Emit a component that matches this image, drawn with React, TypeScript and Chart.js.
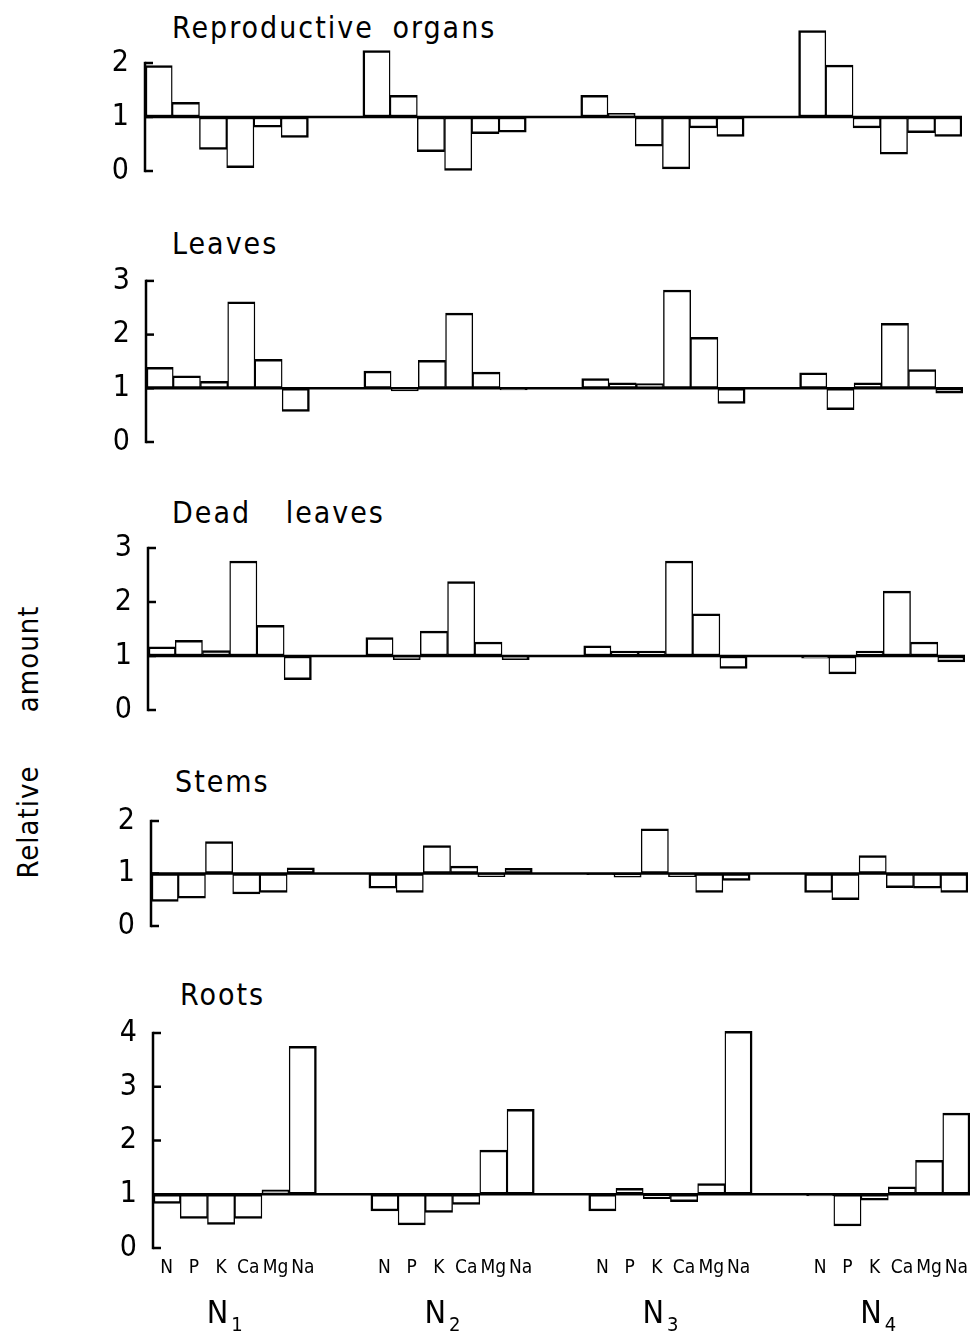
import React, { useEffect, useRef } from 'react';
import { Chart, registerables } from 'chart.js';

Chart.register(...registerables);

// ---------- data ----------
const elements = ['N', 'P', 'K', 'Ca', 'Mg', 'Na'];
const treatments = ['1', '2', '3', '4'];

const reproductive = [
  1.95, 1.27, 0.40, 0.06, 0.81, 0.62,
  2.23, 1.40, 0.36, 0.01, 0.69, 0.72,
  1.40, 1.07, 0.46, 0.04, 0.80, 0.64,
  2.60, 1.96, 0.80, 0.31, 0.71, 0.64,
];
const leaves = [
  1.39, 1.23, 1.13, 2.61, 1.54, 0.57,
  1.32, 0.95, 1.52, 2.40, 1.30, 0.97,
  1.18, 1.10, 1.09, 2.83, 1.95, 0.72,
  1.29, 0.60, 1.10, 2.21, 1.35, 0.91,
];
const deadLeaves = [
  1.17, 1.29, 1.10, 2.76, 1.57, 0.56,
  1.34, 0.93, 1.46, 2.38, 1.26, 0.93,
  1.19, 1.09, 1.09, 2.76, 1.78, 0.77,
  0.96, 0.67, 1.09, 2.20, 1.26, 0.89,
];
const stems = [
  0.47, 0.53, 1.61, 0.61, 0.64, 1.11,
  0.72, 0.64, 1.53, 1.14, 0.94, 1.10,
  0.98, 0.93, 1.85, 0.94, 0.64, 0.87,
  0.64, 0.50, 1.34, 0.73, 0.72, 0.64,
];
const roots = [
  0.83, 0.55, 0.44, 0.55, 1.08, 3.75,
  0.69, 0.43, 0.66, 0.81, 1.82, 2.58,
  0.69, 1.11, 0.92, 0.86, 1.20, 4.03,
  0.97, 0.41, 0.89, 1.14, 1.63, 2.51,
];

const ticksRepro = [0, 1, 2];
const ticksLeaves = [0, 1, 2, 3];
const ticksDead = [0, 1, 2, 3];
const ticksStems = [0, 1, 2];
const ticksRoots = [0, 1, 2, 3, 4];

const BASE = 1;
const GAP = 2;

// ---------- helpers ----------
const FONT = '"DejaVu Sans Condensed", "Liberation Sans Narrow", "DejaVu Sans", sans-serif';
const W = 980;
const PAGE_H = 1334;
const PLOT_W = 817;
const PAD = 40;

function buildLabels(): string[] {
  const out: string[] = [];
  treatments.forEach((_, g) => {
    elements.forEach((e) => out.push(e));
    if (g < treatments.length - 1) for (let k = 0; k < GAP; k++) out.push('');
  });
  return out;
}

function buildBars(values: number[]) {
  const out: ([number, number] | null)[] = [];
  let idx = 0;
  treatments.forEach((_, g) => {
    elements.forEach(() => {
      out.push([BASE, values[idx++]]);
    });
    if (g < treatments.length - 1) for (let k = 0; k < GAP; k++) out.push(null);
  });
  return out;
}

type PanelCfg = {
  title: string;
  values: number[];
  ticks: number[];
  max: number;
  axisX: number;
  y0: number;
  unit: number;
  titleX: number;
  titleBase: number;
  wordSpacing: number;
  showX: boolean;
};

const panels: PanelCfg[] = [
  { title: 'Reproductive organs', values: reproductive, ticks: ticksRepro, max: 2.75, axisX: 145, y0: 171, unit: 54, titleX: 172, titleBase: 38, wordSpacing: 8, showX: false },
  { title: 'Leaves', values: leaves, ticks: ticksLeaves, max: 3.05, axisX: 146, y0: 442, unit: 53.7, titleX: 172, titleBase: 254, wordSpacing: 0, showX: false },
  { title: 'Dead leaves', values: deadLeaves, ticks: ticksDead, max: 3.05, axisX: 148, y0: 710, unit: 54, titleX: 172, titleBase: 523, wordSpacing: 24, showX: false },
  { title: 'Stems', values: stems, ticks: ticksStems, max: 2.1, axisX: 151, y0: 926, unit: 52.5, titleX: 175, titleBase: 792, wordSpacing: 0, showX: false },
  { title: 'Roots', values: roots, ticks: ticksRoots, max: 4.2, axisX: 153, y0: 1248, unit: 53.75, titleX: 180, titleBase: 1005, wordSpacing: 0, showX: true },
];

function Panel({ cfg }: { cfg: PanelCfg }) {
  const ref = useRef<HTMLCanvasElement>(null);
  const plotH = cfg.max * cfg.unit;
  const top = Math.floor(cfg.y0 - plotH - PAD);
  const padTop = cfg.y0 - plotH - top;
  const bottomH = cfg.showX ? PAGE_H - cfg.y0 : PAD;
  const height = Math.round(padTop + plotH + bottomH);

  useEffect(() => {
    if (!ref.current) return;
    const tickVals = cfg.ticks;
    const topTick = tickVals[tickVals.length - 1];

    const framePlugin = {
      id: 'frame',
      afterDatasetsDraw(chart: any) {
        const { ctx, chartArea, scales } = chart;
        const y = scales.y;
        ctx.save();
        ctx.strokeStyle = '#000';
        ctx.lineWidth = 2.5;
        ctx.lineCap = 'butt';
        // baseline at relative amount 1
        const yb = y.getPixelForValue(BASE);
        ctx.beginPath();
        ctx.moveTo(chartArea.left, yb);
        ctx.lineTo(chartArea.right, yb);
        ctx.stroke();
        // y axis line
        const yt = y.getPixelForValue(topTick);
        const y0 = y.getPixelForValue(0);
        ctx.beginPath();
        ctx.moveTo(chartArea.left, yt - 1.2);
        ctx.lineTo(chartArea.left, y0 + 1.2);
        ctx.stroke();
        // inward ticks
        tickVals.forEach((v) => {
          const py = y.getPixelForValue(v);
          ctx.beginPath();
          ctx.moveTo(chartArea.left, py);
          ctx.lineTo(chartArea.left + 8, py);
          ctx.stroke();
        });
        ctx.restore();
      },
    };

    const groupPlugin = {
      id: 'groups',
      afterDraw(chart: any) {
        if (!cfg.showX) return;
        const { ctx, chartArea, scales } = chart;
        const x = scales.x;
        ctx.save();
        ctx.fillStyle = '#000';
        ctx.textBaseline = 'alphabetic';
        ctx.textAlign = 'left';
        const base = chartArea.bottom + (1323 - cfg.y0);
        treatments.forEach((t, g) => {
          const start = g * (elements.length + GAP);
          const cx = (x.getPixelForValue(start + 2) + x.getPixelForValue(start + 3)) / 2;
          ctx.font = `32px ${FONT}`;
          const wN = ctx.measureText('N').width;
          ctx.font = `20px ${FONT}`;
          const wS = ctx.measureText(t).width;
          const total = wN + 3 + wS;
          const left = cx - 10 - total / 2;
          ctx.font = `32px ${FONT}`;
          ctx.fillText('N', left, base);
          ctx.font = `20px ${FONT}`;
          ctx.fillText(t, left + wN + 3, base + 8);
        });
        ctx.restore();
      },
    };

    const chart = new Chart(ref.current, {
      type: 'bar',
      data: {
        labels: buildLabels(),
        datasets: [
          {
            data: buildBars(cfg.values) as any,
            backgroundColor: '#ffffff',
            borderColor: '#000000',
            borderSkipped: false,
            borderWidth: (c: any) => {
              const i = c.dataIndex % (elements.length + GAP);
              return {
                top: 2.5,
                bottom: 2.5,
                left: i === 0 ? 2.5 : 1.4,
                right: i === elements.length - 1 ? 2.5 : 1.4,
              };
            },
            barPercentage: 1,
            categoryPercentage: 1,
          } as any,
        ],
      },
      options: {
        responsive: false,
        animation: false,
        events: [],
        layout: {
          padding: { left: 0, right: W - (cfg.axisX + PLOT_W), top: padTop, bottom: cfg.showX ? 0 : PAD },
        },
        plugins: {
          legend: { display: false },
          tooltip: { enabled: false },
          title: { display: false },
        },
        scales: {
          x: {
            type: 'category',
            offset: true,
            display: cfg.showX,
            grid: { display: false, drawTicks: false },
            border: { display: false },
            ticks: {
              autoSkip: false,
              maxRotation: 0,
              minRotation: 0,
              padding: 9,
              color: '#000',
              font: { family: FONT, size: 19 },
            },
            afterFit: (s: any) => {
              if (cfg.showX) s.height = PAGE_H - cfg.y0;
            },
          },
          y: {
            type: 'linear',
            min: 0,
            max: cfg.max,
            grid: { display: false, drawTicks: false },
            border: { display: false },
            ticks: {
              color: '#000',
              padding: 16,
              font: { family: FONT, size: 30 },
              callback: (v: any) => String(v),
            },
            afterBuildTicks: (s: any) => {
              s.ticks = tickVals.map((value) => ({ value }));
            },
            afterFit: (s: any) => {
              s.width = cfg.axisX;
            },
          },
        },
      },
      plugins: [framePlugin, groupPlugin],
    } as any);
    return () => chart.destroy();
  }, []);

  return (
    <canvas
      ref={ref}
      width={W}
      height={height}
      style={{ position: 'absolute', left: 0, top, width: W, height, display: 'block' }}
    />
  );
}

export default function App() {
  return (
    <div
      style={{
        position: 'absolute',
        left: 0,
        top: 0,
        width: W,
        height: PAGE_H,
        background: '#ffffff',
        overflow: 'hidden',
        fontFamily: FONT,
        color: '#000',
      }}
    >
      {panels.map((p) => (
        <div
          key={'t' + p.title}
          style={{
            position: 'absolute',
            left: p.titleX,
            top: p.titleBase - 25.4,
            fontSize: 30,
            lineHeight: '30px',
            whiteSpace: 'pre',
            letterSpacing: 2,
            wordSpacing: p.wordSpacing,
          }}
        >
          {p.title}
        </div>
      ))}
      <div
        style={{
          position: 'absolute',
          left: 28,
          top: 742,
          transform: 'translate(-50%, -50%) rotate(-90deg)',
          fontSize: 29,
          lineHeight: '29px',
          whiteSpace: 'pre',
          letterSpacing: 1,
          wordSpacing: 44,
        }}
      >
        Relative amount
      </div>
      {panels.map((p) => (
        <Panel key={'p' + p.title} cfg={p} />
      ))}
    </div>
  );
}
